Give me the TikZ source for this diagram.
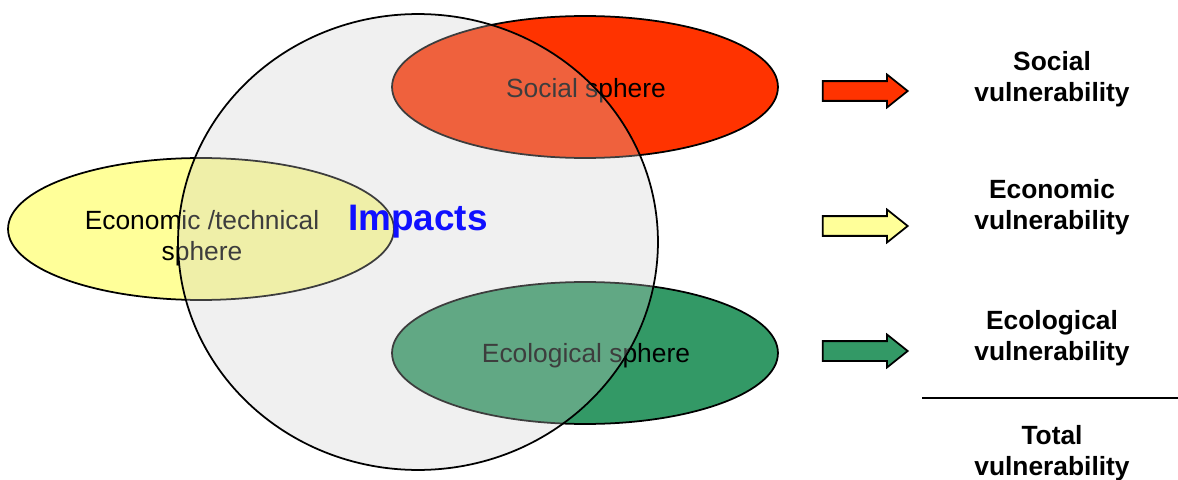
\documentclass[tikz,border=0pt]{standalone}
\usepackage{fontspec}
\setmainfont{Liberation Sans}
\usetikzlibrary{shapes.geometric, shapes.arrows, positioning}
\definecolor{socialred}{HTML}{FF3300}
\definecolor{econyellow}{HTML}{FFFF99}
\definecolor{ecogreen}{HTML}{339966}
\definecolor{impactblue}{HTML}{1010FF}

\begin{document}
\begin{tikzpicture}[x=0.02cm, y=-0.02cm,
  sphere/.style = {shape=ellipse, draw, line width=1pt, inner sep=0pt,
    minimum width=7.72cm, minimum height=2.84cm},
  spheretext/.style = {font=\fontsize{15}{17.6}\selectfont, align=center},
  vularrow/.style = {shape=single arrow, draw, line width=1pt, inner sep=0pt,
    text height=0.36cm, text depth=0pt, minimum height=1.7cm,
    single arrow head extend=0.13cm, single arrow tip angle=77},
  vullabel/.style = {align=center, font=\fontsize{15}{18}\selectfont\bfseries}]
  \useasboundingbox (0,0) rectangle (1178,480);

  % the three spheres
  \node[sphere, fill=socialred] (social) at (585,87) {};
  \node[sphere, fill=econyellow] (econ) at (201,229) {};
  \node[sphere, fill=ecogreen] (eco) at (585,353) {};
  \node[spheretext] (socialtext) at (586,91) {Social sphere};
  \node[spheretext] (econtext) at (202,238) {Economic /technical\\ sphere};
  \node[spheretext] (ecotext) at (586,356) {Ecological sphere};

  % impacts circle on top
  \node[shape=ellipse, draw, line width=1pt, fill=black!20, fill opacity=0.3,
    minimum width=9.6cm, minimum height=9.12cm] (impacts) at (418,242) {};
  \node[text=impactblue, font=\fontsize{21}{25}\selectfont\bfseries] (impactstext) at (418,222) {Impacts};

  % arrows and vulnerabilities
  \node[vularrow, fill=socialred] (socialarrow) at (859,91) {};
  \node[vularrow, fill=econyellow] (econarrow) at (859,226) {};
  \node[vularrow, fill=ecogreen] (ecoarrow) at (859,351) {};

  \node[vullabel] (socialvul) at (1052,79) {Social\\ vulnerability};
  \node[vullabel] (econvul) at (1052,207) {Economic\\ vulnerability};
  \node[vullabel] (ecovul) at (1052,338) {Ecological\\ vulnerability};

  \coordinate (sepleft) at (922,398);
  \coordinate (sepright) at (1178,398);
  \draw[line width=1.1pt] (sepleft) -- (sepright);

  \node[vullabel] (totalvul) at (1052,453) {Total\\ vulnerability};
\end{tikzpicture}
\end{document}
